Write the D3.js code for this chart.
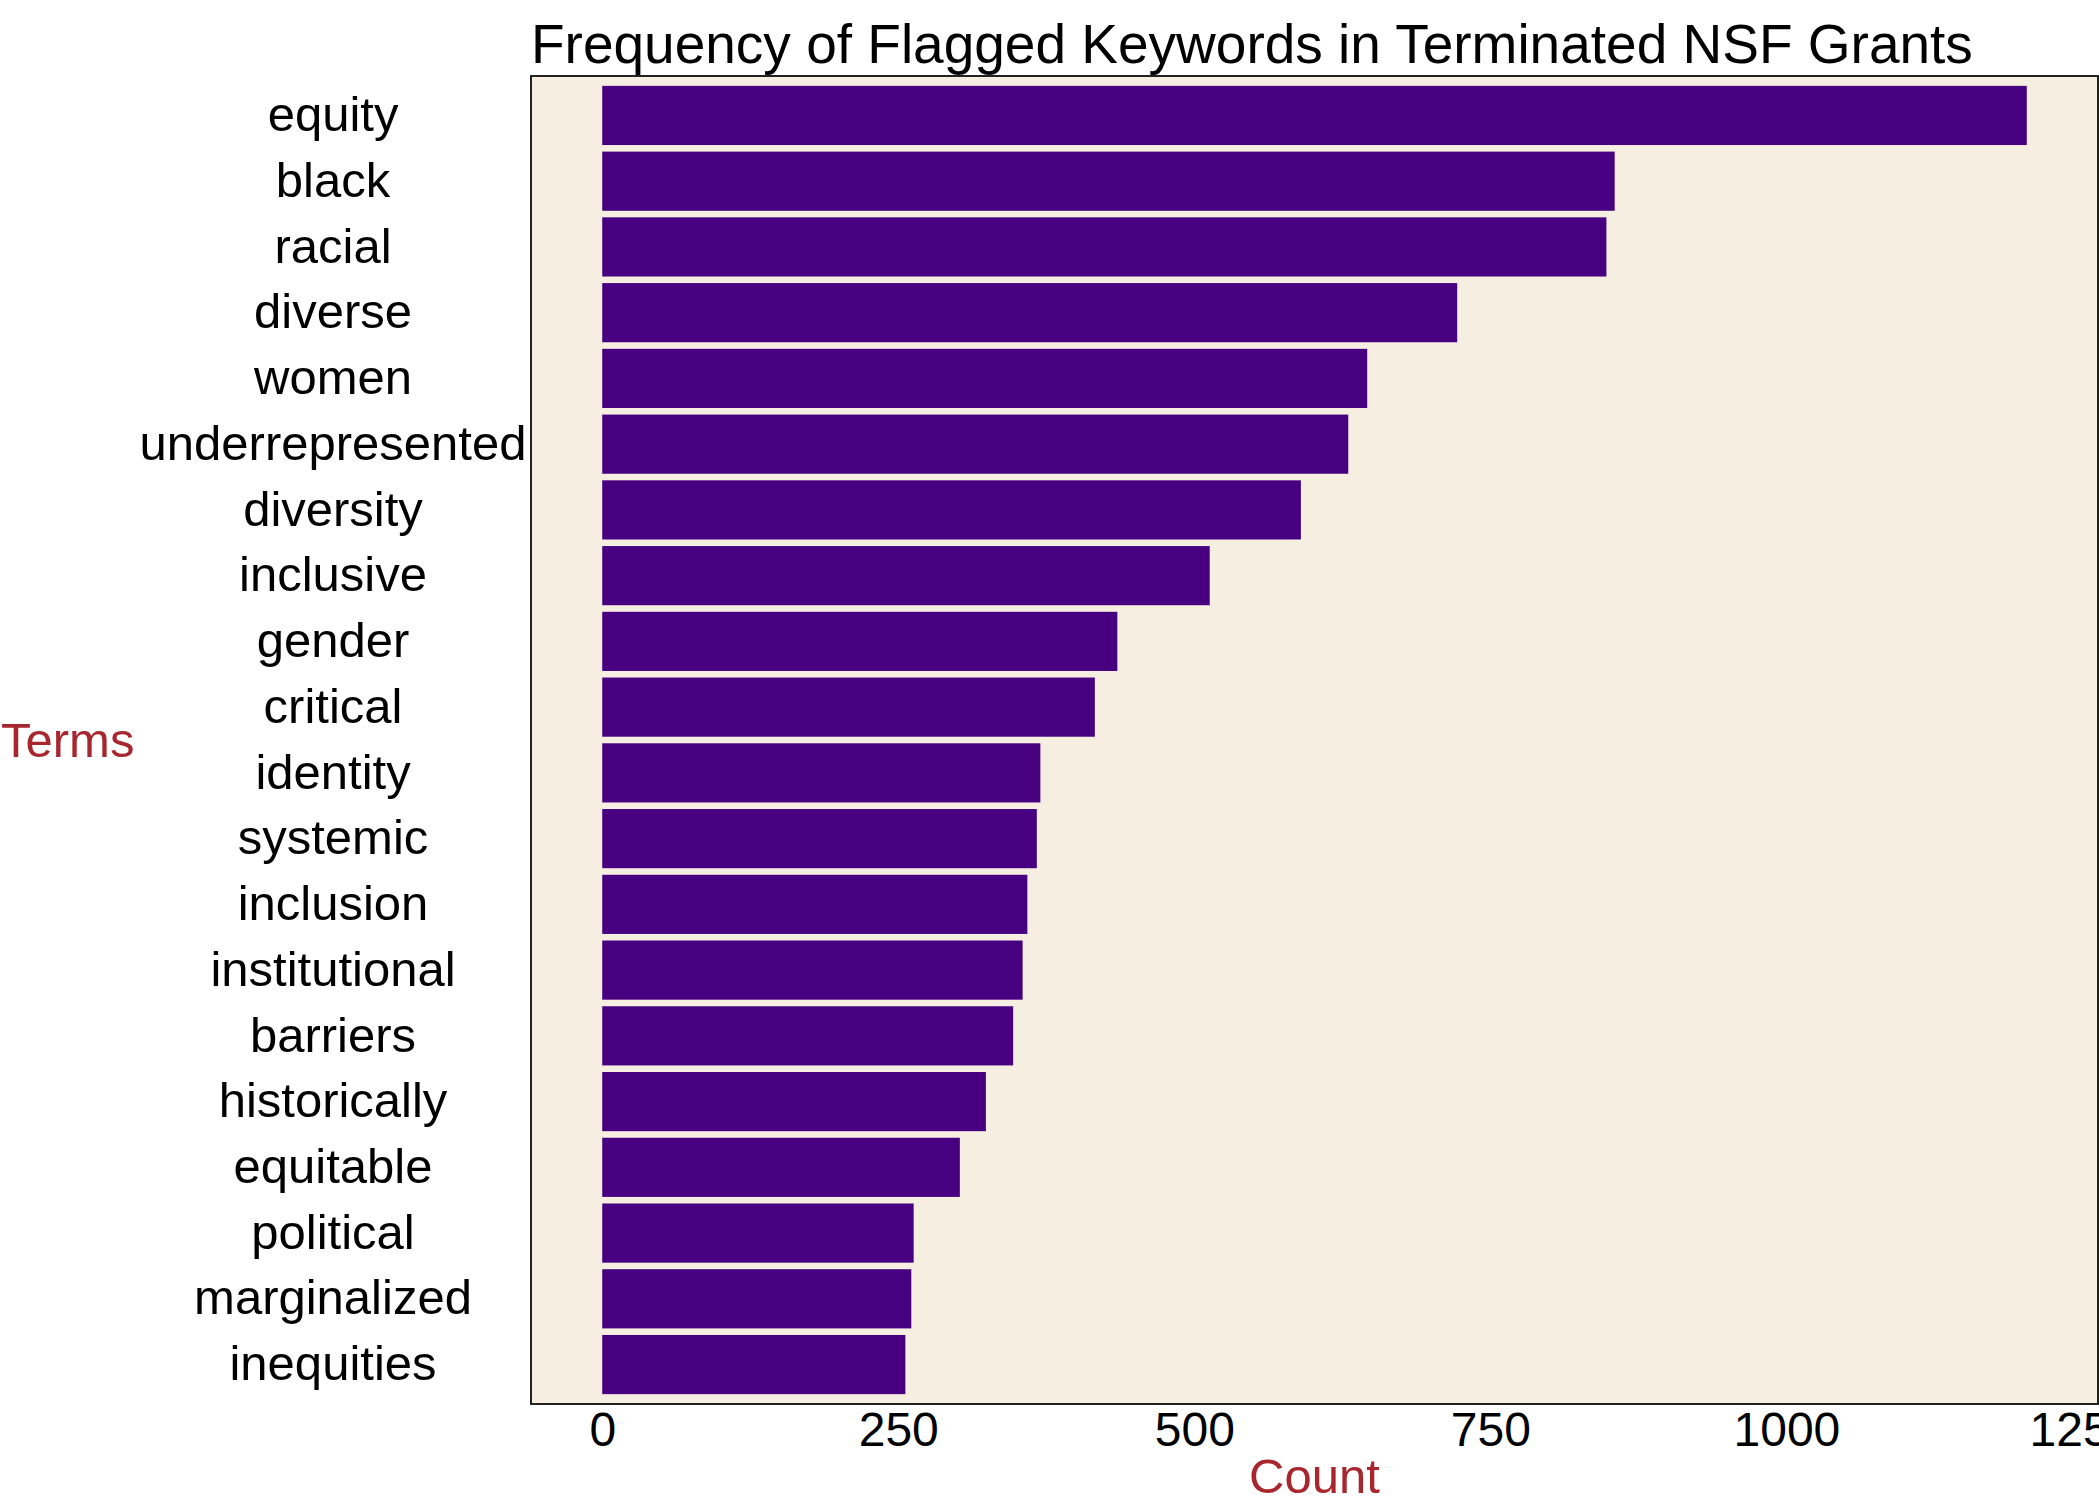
<!DOCTYPE html>
<html>
<head>
<meta charset="utf-8">
<script src="https://cdn.jsdelivr.net/npm/d3@7"></script>
<style>
  body { margin: 0; background: #ffffff; }
  text { font-family: "Liberation Sans", Arial, Helvetica, sans-serif; }
</style>
</head>
<body>
<svg id="chart"></svg>
<script>
// Set dimensions
const width = 2099, height = 1499;
const panel = { left: 531, right: 2098, top: 76, bottom: 1404 };

// Chart data
const terms = ["equity", "black", "racial", "diverse", "women", "underrepresented",
    "diversity", "inclusive", "gender", "critical", "identity", "systemic",
    "inclusion", "institutional", "barriers", "historically", "equitable",
    "political", "marginalized", "inequities"];
const counts = [1203, 855, 848, 722, 646, 630, 590, 513, 435, 416, 370, 367,
    359, 355, 347, 324, 302, 263, 261, 256];
const xTicks = [0, 250, 500, 750, 1000, 1250];

const data = terms.map((t, i) => ({ term: t, count: counts[i] }));
const maxCount = d3.max(counts);

// Create SVG
const svg = d3.select("#chart")
    .attr("width", width)
    .attr("height", height);

// Scales (ggplot-like 5% expansion on x, 0.6 units on discrete y)
const x = d3.scaleLinear()
    .domain([-0.05 * maxCount, 1.05 * maxCount])
    .range([panel.left, panel.right]);

const y = d3.scaleBand()
    .domain(terms)
    .range([panel.top, panel.bottom])
    .paddingInner(0.1)
    .paddingOuter(0.15);

// Panel background
svg.append("rect")
    .attr("x", panel.left)
    .attr("y", panel.top)
    .attr("width", panel.right - panel.left)
    .attr("height", panel.bottom - panel.top)
    .attr("fill", "#f5eee1");

// Bars
svg.selectAll("rect.bar")
    .data(data)
    .enter()
    .append("rect")
    .attr("class", "bar")
    .attr("x", x(0))
    .attr("y", d => y(d.term))
    .attr("width", d => x(d.count) - x(0))
    .attr("height", y.bandwidth())
    .attr("fill", "#460080");

// Panel border
svg.append("rect")
    .attr("x", panel.left)
    .attr("y", panel.top)
    .attr("width", panel.right - panel.left)
    .attr("height", panel.bottom - panel.top)
    .attr("fill", "none")
    .attr("stroke", "#222")
    .attr("stroke-width", 2);

// Y axis labels (centred, no ticks)
const yAxis = svg.append("g")
    .attr("transform", `translate(333,0)`)
    .call(d3.axisLeft(y).tickSize(0).tickPadding(0));
yAxis.select(".domain").remove();
yAxis.selectAll("text")
    .attr("text-anchor", "middle")
    .attr("font-size", "49px")
    .attr("font-family", "Liberation Sans, Arial, sans-serif")
    .attr("fill", "#000");

// X axis labels (no ticks)
const xAxis = svg.append("g")
    .attr("transform", `translate(0,${panel.bottom})`)
    .call(d3.axisBottom(x).tickValues(xTicks).tickFormat(d3.format("d"))
        .tickSize(0).tickPadding(42));
xAxis.select(".domain").remove();
xAxis.selectAll("text")
    .attr("font-size", "48px")
    .attr("font-family", "Liberation Sans, Arial, sans-serif")
    .attr("dy", 0)
    .attr("fill", "#000");

// Title
svg.append("text")
    .attr("x", panel.left)
    .attr("y", 63)
    .attr("font-size", "55px")
    .attr("fill", "#000")
    .text("Frequency of Flagged Keywords in Terminated NSF Grants");

// Axis titles
svg.append("text")
    .attr("x", 1)
    .attr("y", 757)
    .attr("font-size", "49px")
    .attr("fill", "#a8262e")
    .text("Terms");

svg.append("text")
    .attr("x", (panel.left + panel.right) / 2)
    .attr("y", 1493)
    .attr("text-anchor", "middle")
    .attr("font-size", "49px")
    .attr("fill", "#a8262e")
    .text("Count");
</script>
</body>
</html>
